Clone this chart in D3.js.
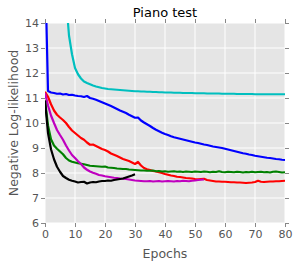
<!DOCTYPE html>
<html lang="en">
<head>
<meta charset="UTF-8">
<title>Piano test</title>
<script src="https://cdnjs.cloudflare.com/ajax/libs/d3/7.8.5/d3.min.js"></script>
<style>
  body { margin: 0; background: #fff; }
  svg { display: block; font-family: "DejaVu Sans", sans-serif; }
  .tick text { fill: #555; font-size: 11px; }
  .tick line { stroke: #888; }
  .grid line { stroke: #fff; stroke-width: 1; }
  .domain { display: none; }
</style>
</head>
<body>
<div id="chart"></div>
<script>
// epochs on x, negative log-likelihood on y
var xTicks = [0, 10, 20, 30, 40, 50, 60, 70, 80];
var yTicks = [6, 7, 8, 9, 10, 11, 12, 13, 14];

// each series starts at epoch 0 unless noted
var blueVals = [16.5, 11.28, 11.22, 11.2, 11.17, 11.18, 11.14, 11.16, 11.12, 11.13,
  11.1, 11.08, 11.07, 11.04, 11.08, 11.0, 10.97, 10.93, 10.88, 10.83,
  10.78, 10.73, 10.68, 10.62, 10.56, 10.5, 10.45, 10.4, 10.33, 10.27,
  10.21, 10.22, 10.1, 10.02, 9.95, 9.88, 9.8, 9.73, 9.67, 9.61,
  9.56, 9.52, 9.47, 9.43, 9.4, 9.37, 9.34, 9.31, 9.28, 9.25,
  9.22, 9.2, 9.17, 9.14, 9.12, 9.09, 9.06, 9.04, 9.02, 9.0,
  8.97, 8.94, 8.91, 8.88, 8.85, 8.82, 8.79, 8.77, 8.74, 8.72,
  8.69, 8.67, 8.65, 8.63, 8.61, 8.6, 8.58, 8.56, 8.55, 8.53, 8.52];

var cyanStart = 7;
var cyanVals = [15.0, 13.5, 12.75, 12.2, 11.95, 11.78, 11.66, 11.6, 11.55,
  11.5, 11.46, 11.43, 11.4, 11.38, 11.36, 11.35, 11.34, 11.33, 11.32, 11.31,
  11.3, 11.29, 11.28, 11.27, 11.27, 11.26, 11.26, 11.25, 11.25, 11.24,
  11.24, 11.23, 11.23, 11.22, 11.22, 11.22, 11.21, 11.21, 11.21, 11.2,
  11.2, 11.2, 11.2, 11.19, 11.19, 11.19, 11.19, 11.18, 11.18, 11.18,
  11.18, 11.18, 11.17, 11.17, 11.17, 11.17, 11.17, 11.16, 11.16, 11.16,
  11.16, 11.16, 11.16, 11.15, 11.15, 11.15, 11.15, 11.15, 11.15, 11.15,
  11.15, 11.15, 11.15, 11.15];

var redVals = [11.25, 11.05, 10.75, 10.5, 10.33, 10.22, 10.12, 10.0, 9.84, 9.7,
  9.6, 9.5, 9.4, 9.33, 9.22, 9.13, 9.14, 9.08, 9.02, 8.96,
  8.92, 8.86, 8.78, 8.73, 8.68, 8.62, 8.56, 8.52, 8.48, 8.42,
  8.36, 8.44, 8.3, 8.2, 8.15, 8.12, 8.08, 8.06, 8.03, 8.0,
  7.96, 7.93, 7.9, 7.88, 7.85, 7.84, 7.82, 7.8, 7.79, 7.78,
  7.76, 7.75, 7.76, 7.77, 7.72, 7.7, 7.68, 7.66, 7.66, 7.65,
  7.65, 7.64, 7.63, 7.63, 7.62, 7.62, 7.61, 7.6, 7.61, 7.62,
  7.64, 7.69, 7.65, 7.64, 7.65, 7.66, 7.66, 7.67, 7.67, 7.68, 7.69];

var greenVals = [10.9, 9.9, 9.35, 9.1, 8.97, 8.86, 8.75, 8.6, 8.5, 8.45,
  8.42, 8.39, 8.37, 8.35, 8.32, 8.29, 8.28, 8.27, 8.26, 8.25,
  8.26, 8.22, 8.21, 8.2, 8.18, 8.17, 8.16, 8.16, 8.14, 8.13,
  8.12, 8.11, 8.1, 8.1, 8.09, 8.09, 8.1, 8.07, 8.08, 8.06,
  8.07, 8.05, 8.06, 8.07, 8.05, 8.06, 8.04, 8.06, 8.05, 8.04,
  8.06, 8.05, 8.04, 8.06, 8.05, 8.03, 8.05, 8.04, 8.07, 8.04,
  8.03, 8.05, 8.04, 8.03, 8.05, 8.04, 8.02, 8.04, 8.03, 8.05,
  8.03, 8.04, 8.05, 8.03, 8.04, 8.02, 8.05, 8.06, 8.04, 8.02, 8.03];

var magentaVals = [11.2, 10.7, 10.3, 10.0, 9.72, 9.52, 9.33, 9.1, 8.9, 8.72,
  8.6, 8.47, 8.36, 8.22, 8.13, 8.06, 8.01, 7.97, 7.92, 7.9,
  7.87, 7.85, 7.83, 7.81, 7.8, 7.78, 7.77, 7.76, 7.74, 7.72,
  7.7, 7.69, 7.68, 7.67, 7.67, 7.68, 7.66, 7.67, 7.68, 7.66,
  7.67, 7.68, 7.67, 7.66, 7.68, 7.67, 7.69, 7.68, 7.67, 7.69,
  7.7, 7.72, 7.73, 7.74];

var blackVals = [10.9, 9.6, 8.95, 8.55, 8.25, 8.05, 7.88, 7.8, 7.73, 7.69,
  7.66, 7.62, 7.64, 7.65, 7.58, 7.62, 7.64, 7.63, 7.66, 7.68,
  7.68, 7.7, 7.69, 7.72, 7.74, 7.76, 7.78, 7.82, 7.86, 7.9, 7.95];

var series = [
  { color: "#00bfbf", start: cyanStart, values: cyanVals },
  { color: "#0000ff", start: 0, values: blueVals },
  { color: "#ff0000", start: 0, values: redVals },
  { color: "#008000", start: 0, values: greenVals },
  { color: "#bf00bf", start: 0, values: magentaVals },
  { color: "#000000", start: 0, values: blackVals }
];

var W = 299, H = 267;
var margin = { top: 23, right: 14, bottom: 44, left: 45 };
var width = W - margin.left - margin.right,
    height = H - margin.top - margin.bottom;

var svg = d3.select("#chart").append("svg")
  .attr("width", W)
  .attr("height", H);

var g = svg.append("g")
  .attr("transform", "translate(" + margin.left + "," + margin.top + ")");

var x = d3.scaleLinear().domain([0, 80]).range([0, width]);
var y = d3.scaleLinear().domain([6, 14]).range([height, 0]);

g.append("rect")
  .attr("width", width)
  .attr("height", height)
  .attr("fill", "#e5e5e5");

// grid
g.append("g").attr("class", "grid")
  .selectAll("line").data(xTicks).enter().append("line")
  .attr("x1", function (d) { return x(d); })
  .attr("x2", function (d) { return x(d); })
  .attr("y1", 0).attr("y2", height);
g.append("g").attr("class", "grid")
  .selectAll("line").data(yTicks).enter().append("line")
  .attr("y1", function (d) { return y(d); })
  .attr("y2", function (d) { return y(d); })
  .attr("x1", 0).attr("x2", width);

// axes on all four sides, labels only left and bottom
g.append("g")
  .attr("transform", "translate(0," + height + ")")
  .call(d3.axisBottom(x).tickValues(xTicks).tickSize(4).tickPadding(3));
g.append("g")
  .call(d3.axisLeft(y).tickValues(yTicks).tickSize(4).tickPadding(2));
g.append("g")
  .call(d3.axisTop(x).tickValues(xTicks).tickSize(4).tickFormat(""));
g.append("g")
  .attr("transform", "translate(" + width + ",0)")
  .call(d3.axisRight(y).tickValues(yTicks).tickSize(4).tickFormat(""));

svg.selectAll(".tick text").attr("font-family", "DejaVu Sans, sans-serif");

g.append("clipPath").attr("id", "clip")
  .append("rect").attr("width", width).attr("height", height);

var line = d3.line()
  .x(function (d) { return x(d[0]); })
  .y(function (d) { return y(d[1]); });

g.append("g").attr("clip-path", "url(#clip)")
  .selectAll("path").data(series).enter().append("path")
  .attr("d", function (s) {
    return line(s.values.map(function (v, i) { return [s.start + i, v]; }));
  })
  .attr("fill", "none")
  .attr("stroke", function (s) { return s.color; })
  .attr("stroke-width", 2.2)
  .attr("stroke-linejoin", "round");

// labels
svg.append("text")
  .attr("x", margin.left + width / 2)
  .attr("y", 17)
  .attr("text-anchor", "middle")
  .attr("font-size", 13)
  .attr("fill", "#000")
  .text("Piano test");

svg.append("text")
  .attr("x", margin.left + width / 2)
  .attr("y", H - 9)
  .attr("text-anchor", "middle")
  .attr("font-size", 12.5)
  .attr("fill", "#555")
  .text("Epochs");

svg.append("text")
  .attr("transform", "translate(18," + (margin.top + height / 2) + ") rotate(-90)")
  .attr("text-anchor", "middle")
  .attr("font-size", 12.5)
  .attr("fill", "#555")
  .text("Negative Log-likelihood");
</script>
</body>
</html>
